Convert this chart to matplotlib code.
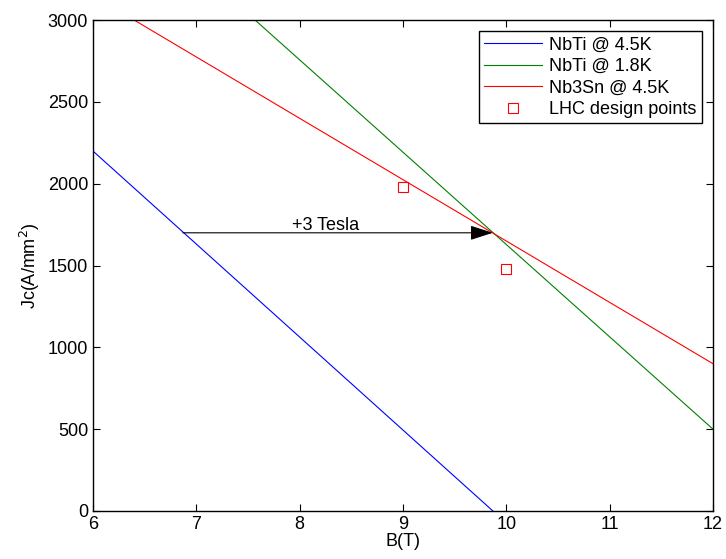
import numpy as np
import matplotlib
matplotlib.use("Agg")
import matplotlib.pyplot as plt

plt.rcParams['font.family'] = ['Liberation Sans', 'DejaVu Sans']

# line end points (B in T, Jc in A/mm^2)
nbti_45_b = [6.0, 9.87]
nbti_45_jc = [2200, 0]
nbti_18_b = [7.57, 12.0]
nbti_18_jc = [3000, 500]
nb3sn_b = [6.0, 12.0]
nb3sn_jc = [3150, 900]
lhc_b = [9.0, 10.0]
lhc_jc = [1980, 1480]

arrow_start = (6.87, 1700)
arrow_end = (9.87, 1700)

fs = 13

fig = plt.figure(figsize=(7.26, 5.59), dpi=100)
ax = fig.add_axes([0.128, 0.086, 0.854, 0.878])

ax.plot(nbti_45_b, nbti_45_jc, color='blue', lw=0.8, label='NbTi @ 4.5K')
ax.plot(nbti_18_b, nbti_18_jc, color='green', lw=0.8, label='NbTi @ 1.8K')
ax.plot(nb3sn_b, nb3sn_jc, color='red', lw=0.8, label='Nb3Sn @ 4.5K')
ax.plot(lhc_b, lhc_jc, ls='none', marker='s', ms=7, mfc='none', mec='red',
        mew=0.8, label='LHC design points')

ax.annotate('', xy=arrow_end, xytext=arrow_start,
            arrowprops=dict(arrowstyle='-|>,head_length=1.4,head_width=0.45',
                            color='black', lw=0.8, shrinkA=0, shrinkB=0))
ax.text(7.93, 1718, '+3 Tesla', fontsize=fs)

ax.set_xlim(6, 12)
ax.set_ylim(0, 3000)
ax.set_xticks(np.arange(6, 13, 1))
ax.set_yticks(np.arange(0, 3001, 500))
ax.tick_params(direction='in', top=True, right=True, labelsize=fs, length=5)
for s in ax.spines.values():
    s.set_linewidth(1.0)
ax.set_xlabel('B(T)', fontsize=fs, labelpad=0)
ax.set_ylabel('Jc(A/mm$^2$)', fontsize=fs, labelpad=4)

leg = ax.legend(loc='upper right', fontsize=fs, fancybox=False, framealpha=1,
                edgecolor='black', borderaxespad=0.6, handlelength=3.2,
                handletextpad=0.4, labelspacing=0.25, borderpad=0.3)
leg.get_frame().set_linewidth(1.0)

fig.savefig('out.png', dpi=100)
